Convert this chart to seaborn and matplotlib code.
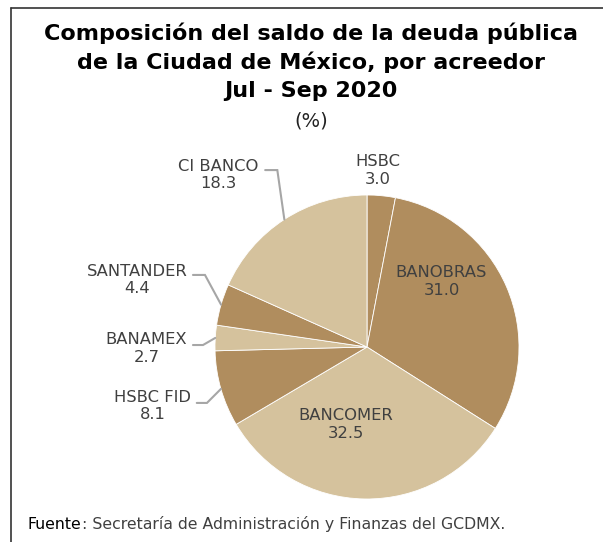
import numpy as np
import matplotlib.pyplot as plt
import seaborn as sns
from matplotlib.lines import Line2D

sns.set_style("white")
plt.rcParams['font.family'] = ['DejaVu Sans']

# data (clockwise from 12 o'clock)
labels = ['HSBC', 'BANOBRAS', 'BANCOMER', 'HSBC FID', 'BANAMEX', 'SANTANDER', 'CI BANCO']
values = [3.0, 31.0, 32.5, 8.1, 2.7, 4.4, 18.3]
dark = '#B08D5E'
light = '#D5C29D'
colors = [dark, dark, light, dark, light, dark, light]

txt_col = '#404040'
line_col = '#A6A6A6'

fig = plt.figure(figsize=(6.03, 5.42), dpi=100)
ax = fig.add_axes([215 / 603, 43 / 542, 304 / 603, 304 / 542])

wedges, _ = ax.pie(values, colors=colors, startangle=90, counterclock=False,
                   radius=1, wedgeprops=dict(edgecolor='white', linewidth=0.6))
ax.set_xlim(-1, 1)
ax.set_ylim(-1, 1)
ax.set_aspect('equal')
ax.axis('off')

# label positions (data coords) and leader lines: (start_x, elbow_x, y)
label_pos = {
    'HSBC': ((0.07, 1.16), None),
    'BANOBRAS': ((0.49, 0.43), None),
    'BANCOMER': ((-0.14, -0.51), None),
    'HSBC FID': ((-1.41, -0.39), (-1.12, -1.053, -0.368)),
    'BANAMEX': ((-1.45, -0.01), (-1.145, -1.079, 0.013)),
    'SANTANDER': ((-1.51, 0.44), (-1.145, -1.066, 0.474)),
    'CI BANCO': ((-0.98, 1.13), (-0.67, -0.59, 1.164)),
}

for w, lab, v in zip(wedges, labels, values):
    (tx, ty), leader = label_pos[lab]
    ax.text(tx, ty, f'{lab}\n{v:.1f}', ha='center', va='center', fontsize=11.8,
            color=txt_col, linespacing=1.2, clip_on=False)
    if leader is not None:
        mid = np.deg2rad((w.theta1 + w.theta2) / 2)
        ex, ey = np.cos(mid), np.sin(mid)
        x0, x1, y0 = leader
        ax.plot([x0, x1, ex], [y0, y0, ey], color=line_col, lw=1.5, clip_on=False,
                solid_joinstyle='miter')

# titles
title_lines = ['Composición del saldo de la deuda pública',
               'de la Ciudad de México, por acreedor',
               'Jul - Sep 2020']
cx = 311 / 603
for i, line in enumerate(title_lines):
    fig.text(cx, 1 - (33 + 29 * i) / 542, line, ha='center', va='center',
             fontsize=16, fontweight='bold', color='black')
fig.text(cx, 1 - 121 / 542, '(%)', ha='center', va='center',
         fontsize=14, color='#222222')

# source
t1 = fig.text(28 / 603, 1 - 529 / 542, 'Fuente', ha='left', va='baseline',
              fontsize=11.3, color='black')
ax.annotate(': Secretaría de Administración y Finanzas del GCDMX.', xy=(1, 0),
            xycoords=t1, ha='left', va='bottom', fontsize=11.3, color=txt_col,
            annotation_clip=False)

# frame lines
fig.add_artist(Line2D([11 / 603, 11 / 603], [0, 1 - 8 / 542], color='#333333', lw=1.2))
fig.add_artist(Line2D([11 / 603, 1], [1 - 8 / 542, 1 - 8 / 542], color='#333333', lw=1.2))

fig.savefig('out.png', dpi=100)
